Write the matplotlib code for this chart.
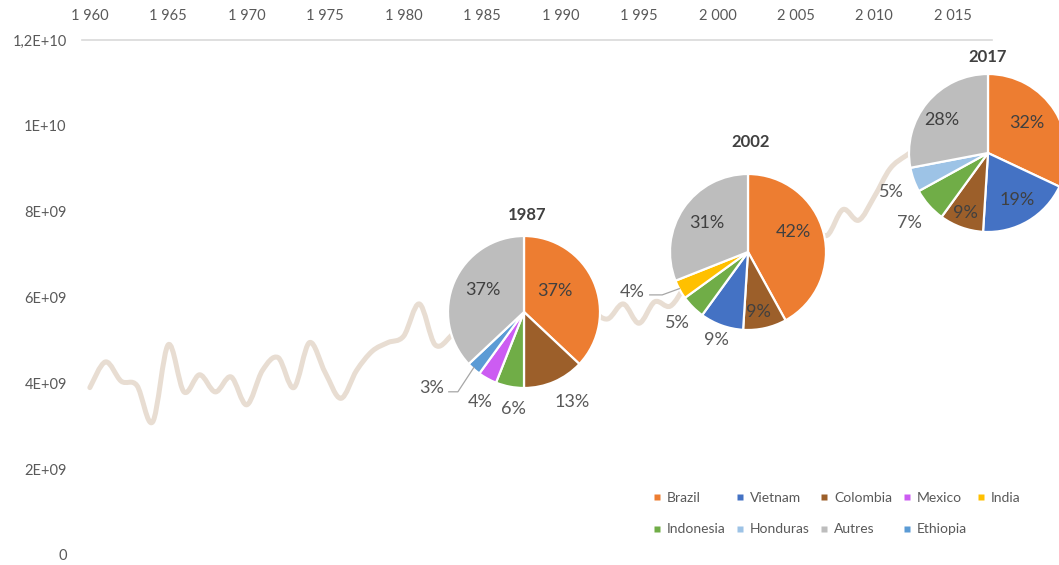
import matplotlib
matplotlib.use("Agg")
import matplotlib.pyplot as plt
from matplotlib.path import Path
from matplotlib.patches import PathPatch
from matplotlib.lines import Line2D
import numpy as np

# ---------------- data ----------------
years = list(range(1960, 2018))
production_bn = [3.9, 4.5, 4.05, 3.95, 3.1, 4.9, 3.8, 4.2, 3.8, 4.15,
                 3.5, 4.3, 4.6, 3.9, 4.95, 4.25, 3.65, 4.3, 4.75, 4.95,
                 5.1, 5.85, 4.9, 5.1, 5.6, 5.3, 5.8, 5.5, 5.9, 5.4,
                 5.6, 6.0, 5.7, 5.5, 5.85, 5.4, 5.9, 5.8, 6.3, 6.8,
                 6.6, 7.0, 6.9, 7.1, 7.3, 7.0, 7.6, 7.45, 8.05, 7.8,
                 8.35, 9.0, 9.3, 9.5, 9.4, 9.6, 9.8, 10.0]

x_tick_years = [1960, 1965, 1970, 1975, 1980, 1985, 1990, 1995, 2000, 2005, 2010, 2015]
y_tick_values = [0, 2e9, 4e9, 6e9, 8e9, 1e10, 1.2e10]
y_tick_labels = ["0", "2E+09", "4E+09", "6E+09", "8E+09", "1E+10", "1,2E+10"]

pie_1987_countries = ["Brazil", "Colombia", "Indonesia", "Mexico", "Ethiopia", "Autres"]
pie_1987_shares = [37, 13, 6, 4, 3, 37]
pie_2002_countries = ["Brazil", "Colombia", "Vietnam", "Indonesia", "India", "Autres"]
pie_2002_shares = [42, 9, 9, 5, 4, 31]
pie_2017_countries = ["Brazil", "Vietnam", "Colombia", "Indonesia", "Honduras", "Autres"]
pie_2017_shares = [32, 19, 9, 7, 5, 28]

legend_countries = ["Brazil", "Vietnam", "Colombia", "Mexico", "India",
                    "Indonesia", "Honduras", "Autres", "Ethiopia"]

# ---------------- style ----------------
country_colors = {
    "Brazil": "#ED7D31", "Vietnam": "#4472C4", "Colombia": "#9C5F2A",
    "Mexico": "#CC5CF2", "India": "#FFC000", "Indonesia": "#70AD47",
    "Honduras": "#9DC3E6", "Autres": "#BDBDBD", "Ethiopia": "#5B9BD5",
}
FONT = ["Lato", "DejaVu Sans"]
plt.rcParams["font.family"] = FONT
W, H = 1059, 565
fig = plt.figure(figsize=(W / 100, H / 100), dpi=100)
fig.patch.set_facecolor("white")

ax = fig.add_axes([82 / W, 10 / H, 910 / W, 515 / H])
ax.set_xlim(1959.5, 2017.5)
ax.set_ylim(0, 1.2e10)

# smooth line (Catmull-Rom converted to cubic Bezier segments drawn by matplotlib Path)
xs = np.array(years, dtype=float)
ys = np.array(production_bn) * 1e9
pts = np.column_stack([xs, ys])
verts = [pts[0]]
codes = [Path.MOVETO]
n = len(pts)
for i in range(n - 1):
    p0 = pts[i - 1] if i > 0 else pts[i]
    p1 = pts[i]
    p2 = pts[i + 1]
    p3 = pts[i + 2] if i + 2 < n else pts[i + 1]
    c1 = p1 + (p2 - p0) / 6.0
    c2 = p2 - (p3 - p1) / 6.0
    verts += [c1, c2, p2]
    codes += [Path.CURVE4] * 3
ax.add_patch(PathPatch(Path(verts, codes), facecolor="none", edgecolor="#E8DDD2",
                       linewidth=3.6, capstyle="round", joinstyle="round"))

for s in ["left", "right", "bottom"]:
    ax.spines[s].set_visible(False)
ax.spines["top"].set_color("#D9D9D9")
ax.spines["top"].set_linewidth(1.2)
ax.xaxis.tick_top()
ax.set_xticks(x_tick_years)
ax.set_xticklabels([f"{y:,}".replace(",", " ") for y in x_tick_years])
ax.set_yticks(y_tick_values)
ax.set_yticklabels(y_tick_labels)
ax.tick_params(axis="x", length=0, pad=12, labelsize=10.5, labelcolor="#595959")
ax.tick_params(axis="y", length=0, pad=11, labelsize=10.5, labelcolor="#595959")

# ---------------- pies ----------------
def draw_pie(cx, cy, r, countries, shares, title, title_pos, label_pos, leader=None):
    pax = fig.add_axes([(cx - r) / W, 1 - (cy + r) / H, 2 * r / W, 2 * r / H])
    pax.pie(shares, colors=[country_colors[c] for c in countries], startangle=90,
            counterclock=False, radius=1,
            wedgeprops=dict(edgecolor="white", linewidth=1.6))
    pax.set_xlim(-1, 1)
    pax.set_ylim(-1, 1)
    pax.axis("off")
    for sh, (lx, ly, inside) in zip(shares, label_pos):
        pax.text(lx, ly, f"{sh}%", ha="center", va="center", fontsize=13,
                 color="#404040" if inside else "#595959", clip_on=False)
    pax.text(title_pos[0], title_pos[1], title, ha="center", va="center",
             fontsize=12, fontweight="bold", color="#404040", clip_on=False)
    if leader is not None:
        pax.add_line(Line2D(leader[0], leader[1], color="#A6A6A6", linewidth=0.9,
                            clip_on=False))

draw_pie(524, 312, 76, pie_1987_countries, pie_1987_shares, "1987", (0.04, 1.28),
         [(0.40, 0.28, True), (0.63, -1.18, False), (-0.14, -1.27, False),
          (-0.58, -1.18, False), (-1.22, -1.00, False), (-0.54, 0.29, True)],
         leader=([-0.99, -0.87, -0.66], [-1.05, -1.05, -0.73]))
draw_pie(748, 252, 78, pie_2002_countries, pie_2002_shares, "2002", (0.03, 1.41),
         [(0.58, 0.26, True), (0.13, -0.77, True), (-0.40, -1.13, False),
          (-0.91, -0.91, False), (-1.49, -0.51, False), (-0.53, 0.37, True)],
         leader=([-1.26, -1.10, -0.88], [-0.55, -0.55, -0.47]))
draw_pie(988, 153, 79, pie_2017_countries, pie_2017_shares, "2017", (0.0, 1.22),
         [(0.49, 0.38, True), (0.37, -0.59, True), (-0.29, -0.76, True),
          (-0.99, -0.89, False), (-1.22, -0.49, False), (-0.58, 0.42, True)])

# ---------------- legend ----------------
order = ["Brazil", "Indonesia", "Vietnam", "Honduras", "Colombia", "Autres",
         "Mexico", "Ethiopia", "India"]
handles = [Line2D([], [], marker="s", linestyle="none", markersize=4.5,
                  markerfacecolor=country_colors[c], markeredgecolor="none")
           for c in order]
fig.legend(handles, order, loc="upper left", bbox_to_anchor=(653 / W, 1 - 492 / H),
           ncol=5, frameon=False, fontsize=10, labelcolor="#595959",
           handlelength=0.6, handletextpad=0.4, columnspacing=0.75,
           labelspacing=1.4, borderpad=0, borderaxespad=0)

fig.savefig("out.png", dpi=100, facecolor="white")
